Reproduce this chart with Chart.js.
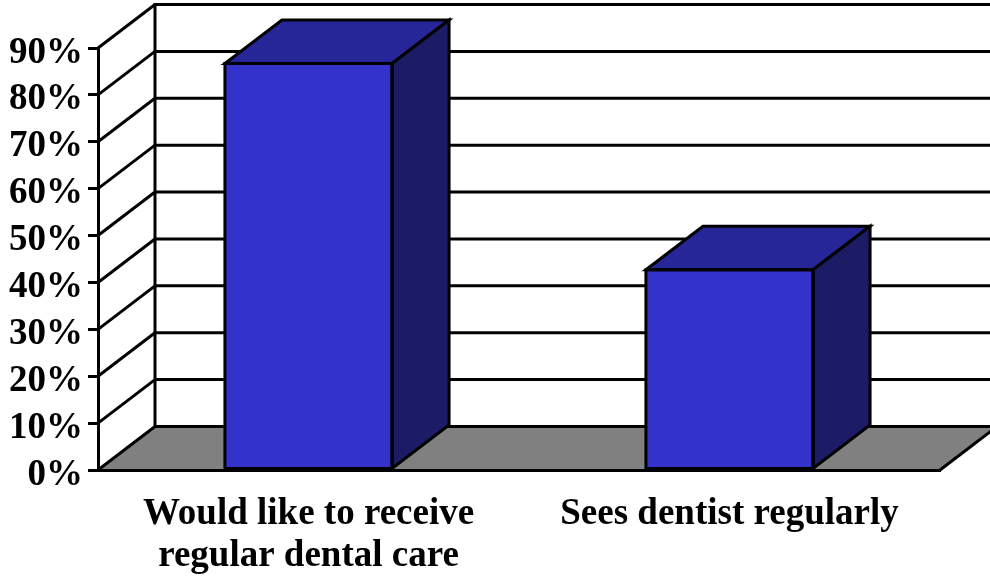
<!DOCTYPE html>
<html>
<head>
<meta charset="utf-8">
<script src="https://cdn.jsdelivr.net/npm/chart.js@4/dist/chart.umd.min.js"></script>
<style>
  html, body { margin: 0; padding: 0; background: #ffffff; }
  canvas { display: block; }
</style>
</head>
<body>
<canvas id="chart" width="990" height="581"></canvas>
<script>
// Survey results: share of respondents per statement
const categories = [['Would like to receive', 'regular dental care'], 'Sees dentist regularly'];
const shares = [86.7, 42.7];
const yTicks = [0, 10, 20, 30, 40, 50, 60, 70, 80, 90];

// Perspective offset of the back wall relative to the front plane
const DEPTH_X = 57;
const DEPTH_Y = -43.5;

const FONT = { family: '"Liberation Serif", "Times New Roman", serif', size: 37, weight: 'bold' };

function line(ctx, x1, y1, x2, y2) {
  ctx.beginPath();
  ctx.moveTo(x1, y1);
  ctx.lineTo(x2, y2);
  ctx.stroke();
}

// Back wall, side wall and floor of the 3D frame
const depthFrame = {
  id: 'depthFrame',
  beforeDraw(chart) {
    const { ctx, chartArea, scales } = chart;
    const ys = scales.y;
    const left = chartArea.left, right = chartArea.right;
    const y0 = ys.getPixelForValue(0);
    const yMax = ys.getPixelForValue(yTicks[yTicks.length - 1]);
    ctx.save();
    ctx.lineWidth = 3;
    ctx.strokeStyle = '#000000';
    ctx.lineCap = 'butt';

    // floor
    ctx.beginPath();
    ctx.moveTo(left, y0);
    ctx.lineTo(right, y0);
    ctx.lineTo(right + DEPTH_X, y0 + DEPTH_Y);
    ctx.lineTo(left + DEPTH_X, y0 + DEPTH_Y);
    ctx.closePath();
    ctx.fillStyle = '#808080';
    ctx.fill();
    line(ctx, right, y0, right + DEPTH_X, y0 + DEPTH_Y);

    // back wall gridlines and side wall diagonals
    yTicks.forEach(v => {
      const py = ys.getPixelForValue(v);
      line(ctx, left + DEPTH_X, py + DEPTH_Y, right + DEPTH_X, py + DEPTH_Y);
      line(ctx, left, py, left + DEPTH_X, py + DEPTH_Y);
    });

    // back wall left edge
    line(ctx, left + DEPTH_X, y0 + DEPTH_Y + 1.5, left + DEPTH_X, yMax + DEPTH_Y - 1.5);
    ctx.restore();
  },
  afterDatasetsDraw(chart) {
    const { ctx } = chart;
    const meta = chart.getDatasetMeta(0);
    ctx.save();
    ctx.lineWidth = 3;
    ctx.strokeStyle = '#000000';
    ctx.lineJoin = 'miter';
    meta.data.forEach(bar => {
      const { x, y, base, width } = bar.getProps(['x', 'y', 'base', 'width'], true);
      const l = x - width / 2, r = x + width / 2;

      // top face
      ctx.beginPath();
      ctx.moveTo(l, y);
      ctx.lineTo(l + DEPTH_X, y + DEPTH_Y);
      ctx.lineTo(r + DEPTH_X, y + DEPTH_Y);
      ctx.lineTo(r, y);
      ctx.closePath();
      ctx.fillStyle = '#262699';
      ctx.fill();
      ctx.stroke();

      // side face
      ctx.beginPath();
      ctx.moveTo(r, y);
      ctx.lineTo(r + DEPTH_X, y + DEPTH_Y);
      ctx.lineTo(r + DEPTH_X, base + DEPTH_Y);
      ctx.lineTo(r, base);
      ctx.closePath();
      ctx.fillStyle = '#1C1C66';
      ctx.fill();
      ctx.stroke();

      // front face outline
      ctx.strokeRect(l, y, width, base - y);
    });
    ctx.restore();
  }
};

new Chart(document.getElementById('chart'), {
  type: 'bar',
  data: {
    labels: categories,
    datasets: [{
      data: shares,
      backgroundColor: '#3333CC',
      borderWidth: 0,
      barPercentage: 0.397,
      categoryPercentage: 1.0
    }]
  },
  options: {
    responsive: false,
    devicePixelRatio: 1,
    animation: false,
    events: [],
    layout: { padding: { top: 48, right: 50, left: 0, bottom: 0 } },
    plugins: {
      legend: { display: false },
      tooltip: { enabled: false },
      title: { display: false }
    },
    scales: {
      x: {
        grid: { display: false, drawTicks: false },
        border: { display: true, color: '#000000', width: 3 },
        ticks: {
          color: '#000000',
          font: { ...FONT, lineHeight: 1.135 },
          padding: 23,
          maxRotation: 0,
          autoSkip: false
        },
        afterFit(scale) { scale.height = 111; }
      },
      y: {
        min: 0,
        max: 90,
        grid: {
          display: true,
          drawOnChartArea: false,
          drawTicks: true,
          tickLength: 10,
          lineWidth: 3,
          color: '#000000'
        },
        border: { display: true, color: '#000000', width: 3 },
        ticks: {
          stepSize: 10,
          autoSkip: false,
          color: '#000000',
          font: FONT,
          padding: 5,
          labelOffset: 5,
          callback: v => v + '%'
        },
        afterFit(scale) { scale.width = 98; }
      }
    }
  },
  plugins: [depthFrame]
});
</script>
</body>
</html>
